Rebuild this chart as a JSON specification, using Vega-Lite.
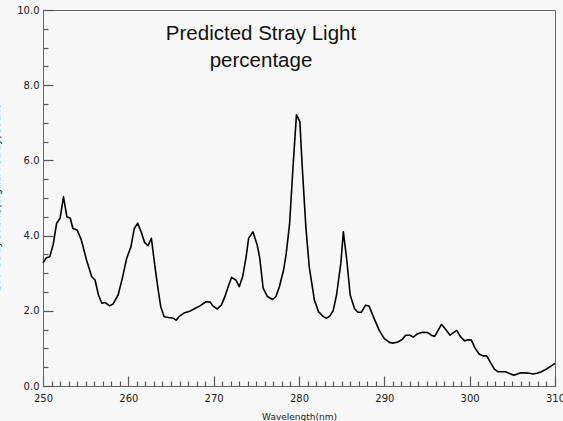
{
  "$schema": "https://vega.github.io/schema/vega-lite/v6.json",
  "width": 512,
  "height": 376,
  "autosize": "none",
  "padding": {"left": 43, "top": 10, "right": 8, "bottom": 35},
  "background": "#f7f7f7",
  "config": {
    "view": {"stroke": "#666666", "strokeWidth": 1},
    "axis": {
      "grid": false,
      "domainColor": "#666666",
      "tickColor": "#555555",
      "domainWidth": 1,
      "tickWidth": 1.2,
      "labelFont": "DejaVu Sans",
      "labelFontSize": 10,
      "labelColor": "#1a1a1a",
      "labelFlush": false,
      "labelOverlap": false,
      "labelBound": false,
      "titleFont": "DejaVu Sans",
      "titleFontSize": 9,
      "titleFontWeight": "normal",
      "titleColor": "#1a1a1a"
    }
  },
  "title": {
    "text": ["Predicted Stray Light", "percentage"],
    "font": "Liberation Sans",
    "fontSize": 20.5,
    "fontWeight": "normal",
    "color": "#111111",
    "anchor": "middle",
    "frame": "group",
    "baseline": "top",
    "lineHeight": 27,
    "offset": 0,
    "dx": -38,
    "dy": 66
  },
  "data": {
    "values": [
      {"wl": 250.0, "pct": 3.28}, {"wl": 250.4, "pct": 3.41}, {"wl": 250.8, "pct": 3.44},
      {"wl": 251.2, "pct": 3.77}, {"wl": 251.6, "pct": 4.33}, {"wl": 252.0, "pct": 4.46},
      {"wl": 252.4, "pct": 5.03}, {"wl": 252.8, "pct": 4.5}, {"wl": 253.2, "pct": 4.46},
      {"wl": 253.5, "pct": 4.19}, {"wl": 254.0, "pct": 4.15}, {"wl": 254.5, "pct": 3.88},
      {"wl": 255.1, "pct": 3.35}, {"wl": 255.7, "pct": 2.91}, {"wl": 256.1, "pct": 2.82},
      {"wl": 256.5, "pct": 2.42}, {"wl": 256.9, "pct": 2.2}, {"wl": 257.3, "pct": 2.22},
      {"wl": 257.8, "pct": 2.13}, {"wl": 258.2, "pct": 2.18}, {"wl": 258.8, "pct": 2.42},
      {"wl": 259.3, "pct": 2.87}, {"wl": 259.8, "pct": 3.39}, {"wl": 260.3, "pct": 3.7},
      {"wl": 260.7, "pct": 4.19}, {"wl": 261.1, "pct": 4.33}, {"wl": 261.5, "pct": 4.1},
      {"wl": 261.9, "pct": 3.82}, {"wl": 262.3, "pct": 3.73}, {"wl": 262.7, "pct": 3.93},
      {"wl": 263.1, "pct": 3.21}, {"wl": 263.5, "pct": 2.55}, {"wl": 263.8, "pct": 2.11},
      {"wl": 264.2, "pct": 1.84}, {"wl": 264.7, "pct": 1.82}, {"wl": 265.2, "pct": 1.81},
      {"wl": 265.6, "pct": 1.75}, {"wl": 266.0, "pct": 1.86}, {"wl": 266.6, "pct": 1.95},
      {"wl": 267.2, "pct": 1.99}, {"wl": 267.8, "pct": 2.06}, {"wl": 268.4, "pct": 2.13},
      {"wl": 268.7, "pct": 2.18}, {"wl": 269.1, "pct": 2.24}, {"wl": 269.6, "pct": 2.23},
      {"wl": 269.9, "pct": 2.13}, {"wl": 270.4, "pct": 2.05}, {"wl": 270.9, "pct": 2.15},
      {"wl": 271.3, "pct": 2.37}, {"wl": 271.7, "pct": 2.64}, {"wl": 272.1, "pct": 2.89},
      {"wl": 272.6, "pct": 2.82}, {"wl": 273.0, "pct": 2.64}, {"wl": 273.4, "pct": 2.91},
      {"wl": 273.8, "pct": 3.43}, {"wl": 274.1, "pct": 3.93}, {"wl": 274.6, "pct": 4.1},
      {"wl": 275.1, "pct": 3.75}, {"wl": 275.4, "pct": 3.4}, {"wl": 275.8, "pct": 2.6},
      {"wl": 276.3, "pct": 2.38}, {"wl": 276.9, "pct": 2.3}, {"wl": 277.3, "pct": 2.38},
      {"wl": 277.7, "pct": 2.64}, {"wl": 278.2, "pct": 3.09}, {"wl": 278.5, "pct": 3.52},
      {"wl": 278.9, "pct": 4.32}, {"wl": 279.3, "pct": 5.83}, {"wl": 279.7, "pct": 7.21},
      {"wl": 280.1, "pct": 7.03}, {"wl": 280.4, "pct": 5.75}, {"wl": 280.8, "pct": 4.24},
      {"wl": 281.2, "pct": 3.17}, {"wl": 281.8, "pct": 2.29}, {"wl": 282.3, "pct": 1.97},
      {"wl": 282.8, "pct": 1.86}, {"wl": 283.2, "pct": 1.8}, {"wl": 283.6, "pct": 1.86},
      {"wl": 284.0, "pct": 2.0}, {"wl": 284.4, "pct": 2.42}, {"wl": 284.9, "pct": 3.26},
      {"wl": 285.2, "pct": 4.1}, {"wl": 285.6, "pct": 3.35}, {"wl": 286.0, "pct": 2.42},
      {"wl": 286.5, "pct": 2.06}, {"wl": 286.9, "pct": 1.96}, {"wl": 287.3, "pct": 1.96},
      {"wl": 287.8, "pct": 2.15}, {"wl": 288.2, "pct": 2.13}, {"wl": 288.8, "pct": 1.8},
      {"wl": 289.4, "pct": 1.48}, {"wl": 290.0, "pct": 1.26}, {"wl": 290.6, "pct": 1.16},
      {"wl": 291.0, "pct": 1.14}, {"wl": 291.6, "pct": 1.17}, {"wl": 292.1, "pct": 1.24},
      {"wl": 292.5, "pct": 1.35}, {"wl": 293.0, "pct": 1.35}, {"wl": 293.4, "pct": 1.3},
      {"wl": 293.9, "pct": 1.39}, {"wl": 294.5, "pct": 1.43}, {"wl": 295.1, "pct": 1.42},
      {"wl": 295.5, "pct": 1.35}, {"wl": 295.9, "pct": 1.32}, {"wl": 296.3, "pct": 1.48},
      {"wl": 296.7, "pct": 1.64}, {"wl": 297.2, "pct": 1.5}, {"wl": 297.7, "pct": 1.35},
      {"wl": 298.1, "pct": 1.42}, {"wl": 298.5, "pct": 1.48}, {"wl": 298.9, "pct": 1.32},
      {"wl": 299.4, "pct": 1.2}, {"wl": 299.8, "pct": 1.23}, {"wl": 300.2, "pct": 1.22},
      {"wl": 300.6, "pct": 1.02}, {"wl": 301.1, "pct": 0.85}, {"wl": 301.6, "pct": 0.8},
      {"wl": 302.0, "pct": 0.8}, {"wl": 302.5, "pct": 0.6}, {"wl": 302.9, "pct": 0.45},
      {"wl": 303.3, "pct": 0.38}, {"wl": 303.8, "pct": 0.38}, {"wl": 304.2, "pct": 0.38},
      {"wl": 304.6, "pct": 0.34}, {"wl": 305.1, "pct": 0.29}, {"wl": 305.5, "pct": 0.31},
      {"wl": 306.0, "pct": 0.35}, {"wl": 306.5, "pct": 0.35}, {"wl": 307.0, "pct": 0.34},
      {"wl": 307.4, "pct": 0.32}, {"wl": 307.9, "pct": 0.34}, {"wl": 308.4, "pct": 0.38},
      {"wl": 308.9, "pct": 0.44}, {"wl": 309.4, "pct": 0.51}, {"wl": 310.0, "pct": 0.6}
    ]
  },
  "mark": {"type": "line", "color": "#000000", "strokeWidth": 1.6, "strokeJoin": "round"},
  "encoding": {
    "x": {
      "field": "wl", "type": "quantitative",
      "scale": {"domain": [250, 310], "nice": false, "zero": false},
      "axis": {
        "orient": "bottom",
        "values": [250, 251, 252, 253, 254, 255, 256, 257, 258, 259, 260, 261, 262, 263, 264, 265, 266, 267, 268, 269, 270, 271, 272, 273, 274, 275, 276, 277, 278, 279, 280, 281, 282, 283, 284, 285, 286, 287, 288, 289, 290, 291, 292, 293, 294, 295, 296, 297, 298, 299, 300, 301, 302, 303, 304, 305, 306, 307, 308, 309, 310],
        "labelExpr": "datum.value % 10 === 0 ? datum.label : ''",
        "ticks": true,
        "tickSize": {"condition": {"test": "datum.value % 10 === 0", "value": -10}, "value": -5},
        "labelPadding": 17,
        "title": "Wavelength(nm)",
        "titlePadding": 4
      }
    },
    "y": {
      "field": "pct", "type": "quantitative",
      "scale": {"domain": [0, 10], "nice": false, "zero": false},
      "axis": {
        "orient": "left",
        "values": [0, 0.5, 1, 1.5, 2, 2.5, 3, 3.5, 4, 4.5, 5, 5.5, 6, 6.5, 7, 7.5, 8, 8.5, 9, 9.5, 10],
        "labelExpr": "datum.value % 2 === 0 ? datum.label : ''",
        "ticks": true,
        "tickSize": {"condition": {"test": "datum.value % 2 === 0", "value": -10}, "value": -5},
        "labelPadding": 14,
        "title": "100*StrayCount/(Signal+Stray)Count",
        "titleFontSize": 10,
        "titlePadding": 15
      }
    }
  }
}
